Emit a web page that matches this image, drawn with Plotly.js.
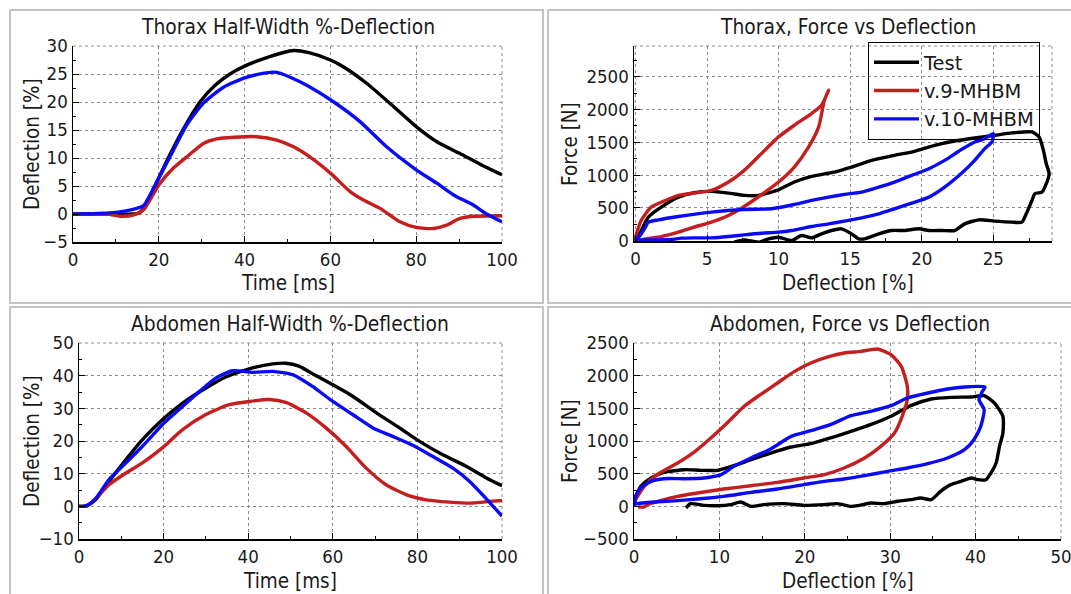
<!DOCTYPE html>
<html>
<head>
<meta charset="utf-8">
<script src="https://cdn.plot.ly/plotly-3.0.1.min.js"></script>
<style>html,body{margin:0;padding:0;background:#fff;}#chart{width:1071px;height:594px;}</style>
</head>
<body>
<div id="chart"></div>
<script>
// ---------- Series names ----------
const seriesNames = ["Test", "v.9-MHBM", "v.10-MHBM"];

// ---------- Panel 1: Thorax Half-Width %-Deflection (time [ms], deflection [%]) ----------
const thoraxTestT = [0,10,15.2,16.5,19.1,22.2,25.6,29.6,33,36.6,40,45,51.4,55,60,63,68.5,74.7,80,84.8,90.2,94.9,100];
const thoraxTestD = [0,0,0.1,1,5,10,15,20,22.9,25,26.4,27.9,29.2,28.8,27.5,26.3,23.3,19.2,15.6,12.9,10.8,8.9,7];
const thoraxV9T = [0,8,11,14,16.4,20,23.4,26.5,30.4,33.5,40,42.8,47.5,51.4,55.2,60,64.6,67.7,71.6,76.2,80,84,87.1,90.2,93.3,100];
const thoraxV9D = [0,0,-0.4,-0.2,0.7,5.2,8.2,10.2,12.6,13.4,13.8,13.8,13.2,12,10.2,7.3,4,2.5,1,-1.4,-2.4,-2.6,-2,-0.8,-0.4,-0.3];
const thoraxV10T = [0,8.6,12,15.6,16.5,20,23.4,26.5,30.4,35,40,45,47.5,52.9,60,66.9,73.1,80,84.8,88.7,93.3,96.4,100];
const thoraxV10D = [0,0.2,0.5,1.2,1.5,6.4,11.4,15.9,19.8,22.6,24.3,25.2,25.3,23.6,20.4,16.5,12,7.9,5.5,3.4,1.6,0,-1.4];

// ---------- Panel 2: Thorax, Force vs Deflection ----------
const thoraxFdTestX = [0,0.4,0.9,1.8,3,4.1,5.3,6.5,7.6,8.6,10,11.1,12.3,13.7,15.1,16.5,18.1,19.5,20.9,22.3,23.7,25.1,26.3,27.7,28.2,28.5,28.7,28.9,28.6,28.4,27.9,27.7,27.3,27,26.3,25.1,24,23,22.3,21.4,20.5,19.8,18.8,17.9,17,16,15.6,15.1,14.4,13.7,13,12.3,11.6,10.9,10,9.3,8.6,7.6,6.9];
const thoraxFdTestF = [0,153,357,510,663,730,750,724,689,689,775,893,980,1036,1122,1224,1301,1362,1454,1520,1566,1607,1643,1658,1582,1377,1173,1020,816,740,714,612,408,281,281,296,316,255,153,153,153,179,153,153,102,26,26,102,179,153,102,41,77,0,51,26,-25,10,-25];
const thoraxFdV9X = [0,0.4,1.1,2.1,3,4.1,5.3,6.5,7.6,8.8,10,11.1,12.3,13,13.5,13.2,12.8,12.1,11.1,10,8.8,7.6,6.5,5.3,4.1,3,1.8,0.7,0];
const thoraxFdV9F = [0,306,510,612,689,724,765,893,1071,1327,1582,1760,1939,2066,2296,2143,1735,1429,1122,893,699,520,383,281,204,128,61,26,0];
const thoraxFdV10X = [0,0.4,0.7,0.9,1.6,3,5.3,7.6,9.5,11.1,12.3,13.5,14.6,15.8,17,18.1,19.3,20.5,21.6,22.8,23.7,24.4,25,24.9,24.4,23.7,22.8,21.6,20.5,19.3,18.1,17,15.8,14.6,13.5,12.3,10.9,10,8.8,7.6,6.5,5.3,4.1,3.2,2.5,1.4,0.7,0.2];
const thoraxFdV10F = [0,102,204,281,316,367,434,474,485,551,612,663,704,740,816,893,995,1097,1224,1393,1505,1556,1633,1505,1403,1224,1031,816,663,571,485,408,347,296,255,214,153,128,112,87,61,41,41,36,15,10,10,10];

// ---------- Panel 3: Abdomen Half-Width %-Deflection ----------
const abdTestT = [0,1,2,3.9,7.1,11.1,15,19.7,24.5,30,34.7,40.3,45.8,48.9,52,55.2,60,64.7,70.3,75.8,80.5,86,91.6,96.3,100];
const abdTestD = [0,0,0.3,2,7.6,14.3,20.4,26.5,31.6,36.2,39.6,42.1,43.6,43.8,42.9,40.6,37.2,33.7,28.6,24,19.9,15.8,12.2,8.7,6.3];
const abdV9T = [0,1,2,3.9,7.1,11.1,15,19.7,24.5,30,35.5,40.3,45,48.9,53.7,58.4,63.1,67.9,72.6,77.3,82.1,87.6,93.1,97.1,100];
const abdV9D = [0,0,0.3,2.3,6.6,10.2,13.3,17.9,23.5,28.1,31.1,32.1,32.7,31.8,28.6,24,18.4,11.7,6.6,3.6,2,1.3,1,1.5,1.8];
const abdV10T = [0,1,2,3.9,7.1,11.1,15,19.7,24.5,28.5,32.4,36.3,41,45.8,50.5,55.2,60,64.7,69.5,74.2,78.9,83.6,88.4,92.3,96.3,100];
const abdV10D = [0,0,0.3,2.3,8.2,13.3,18.4,25,30.6,35.2,39.3,41.5,41,41.3,40.3,36.7,32.1,28.1,24,21.4,18.7,15.3,11.7,7.7,2.3,-3];

// ---------- Panel 4: Abdomen, Force vs Deflection ----------
const abdFdTestX = [0,0.2,0.8,2,3.5,5.9,7.8,9.8,11.7,13.7,16,18.4,20.7,23,25.4,27.7,30.1,32.4,34.8,37.1,39.5,41,42.2,43.2,43.2,42.8,42.4,41.8,41.2,40.2,39.5,38.3,37.1,35.9,34.8,33.6,32.4,30.9,29.3,27.7,26.2,25.4,23.8,22.3,19.9,17.6,15.2,13.7,12.5,11.3,9.8,8.2,6.6,6.1];
const abdFdTestF = [100,153,306,434,520,561,551,551,622,714,816,908,959,1046,1148,1250,1378,1541,1643,1668,1674,1694,1582,1378,1122,918,663,510,408,408,434,383,332,230,102,128,102,77,41,51,10,0,41,26,15,41,26,0,66,26,10,15,41,-26];
const abdFdV9X = [0,0.2,1.2,2.7,5.1,7,9,10.9,12.9,14.8,16.8,18.8,20.7,22.7,24.6,26.6,28.5,30.1,31.3,32,32,31.4,30.5,28.9,27,24.6,22.3,19.9,16.8,13.7,10.5,7.4,5.1,3.1,1.6,1.2,0.5];
const abdFdV9F = [0,102,306,485,663,827,1046,1276,1531,1709,1888,2066,2194,2286,2347,2372,2408,2321,2143,1837,1633,1378,1122,918,740,587,485,434,367,316,265,204,153,87,26,-10,-10];
const abdFdV10X = [0,0.2,0.8,2,3.5,5.9,8.2,10.2,11.7,13.7,16,18.4,20.7,23,25.4,27.7,30.1,32,34.4,36.7,38.7,41.1,40.8,40.4,41,40.6,39.8,38.7,36.7,34.4,32,29.7,27,24.6,22.3,19.9,16.8,13.7,10.5,7.4,5.1,2.3,0.4,0];
const abdFdV10F = [0,153,281,383,423,423,434,485,612,740,878,1071,1158,1250,1388,1454,1541,1658,1735,1796,1827,1827,1760,1633,1480,1224,1020,867,740,653,587,536,469,418,383,332,265,214,153,112,87,66,41,26];

// ---------- Styling ----------
const FONT = "'DejaVu Sans Condensed', 'DejaVu Sans', sans-serif";
const colors = ["#000000", "#c41e1e", "#0a0af5"];
const LW = 3.4;
const W = 1071, H = 594;

function tr(x, y, i, xa, ya, legend) {
  return {type: "scatter", mode: "lines", x: x, y: y, name: seriesNames[i],
    xaxis: xa, yaxis: ya, showlegend: !!legend, hoverinfo: "skip",
    line: {color: colors[i], width: LW, shape: "spline", smoothing: 0.6}};
}

const data = [
  tr(thoraxTestT, thoraxTestD, 0, "x", "y"),
  tr(thoraxV9T, thoraxV9D, 1, "x", "y"),
  tr(thoraxV10T, thoraxV10D, 2, "x", "y"),
  tr(thoraxFdTestX, thoraxFdTestF, 0, "x2", "y2", true),
  tr(thoraxFdV9X, thoraxFdV9F, 1, "x2", "y2", true),
  tr(thoraxFdV10X, thoraxFdV10F, 2, "x2", "y2", true),
  tr(abdTestT, abdTestD, 0, "x3", "y3"),
  tr(abdV9T, abdV9D, 1, "x3", "y3"),
  tr(abdV10T, abdV10D, 2, "x3", "y3"),
  tr(abdFdTestX, abdFdTestF, 0, "x4", "y4"),
  tr(abdFdV9X, abdFdV9F, 1, "x4", "y4"),
  tr(abdFdV10X, abdFdV10F, 2, "x4", "y4")
];

function ax(px0, px1, range, dtick, minor, anchor, isY) {
  const dom = isY ? [1 - px1 / H, 1 - px0 / H] : [px0 / W, px1 / W];
  return {domain: dom, range: range, dtick: dtick, tick0: 0, anchor: anchor,
    showline: true, linecolor: "#000", linewidth: 1.5, mirror: false,
    ticks: "inside", ticklen: 6, tickwidth: 1, tickcolor: "#000",
    minor: {dtick: minor, ticks: "inside", ticklen: 3, tickcolor: "#000", showgrid: false},
    showgrid: true, gridcolor: "#8c8c8c", griddash: "dot", gridwidth: 1,
    zeroline: false, fixedrange: true, ticklabeloverflow: "allow",
    tickfont: {family: FONT, size: 18.5, color: "#1a1a1a"}};
}

const shapes = [];
// dotted top/right borders of each plot area
["", "2", "3", "4"].forEach(s => {
  shapes.push({type: "line", xref: "x" + s + " domain", yref: "y" + s + " domain", x0: 0, x1: 1, y0: 1, y1: 1,
    line: {color: "#8c8c8c", width: 1, dash: "dot"}, layer: "below"});
  shapes.push({type: "line", xref: "x" + s + " domain", yref: "y" + s + " domain", x0: 1, x1: 1, y0: 0, y1: 1,
    line: {color: "#8c8c8c", width: 1, dash: "dot"}, layer: "below"});
});
// panel frames (pixel boxes converted to paper coords)
function frame(x0, y0, x1, y1) {
  shapes.push({type: "rect", xref: "paper", yref: "paper",
    x0: x0 / W, x1: x1 / W, y0: 1 - y1 / H, y1: 1 - y0 / H,
    line: {color: "#c4c4c4", width: 2}, fillcolor: "rgba(0,0,0,0)", layer: "below"});
}
frame(10, 10, 543, 303);
frame(548, 10, 1080, 303);
frame(10, 307, 543, 600);
frame(548, 307, 1080, 600);

function ann(text, xpx, ypx, angle, size) {
  return {text: text, xref: "paper", yref: "paper", x: xpx / W, y: 1 - ypx / H,
    xanchor: "center", yanchor: "middle", showarrow: false, textangle: angle || 0,
    font: {family: FONT, size: size || 20.5, color: "#1a1a1a"}};
}

const layout = {
  width: W, height: H, margin: {l: 0, r: 0, t: 0, b: 0},
  paper_bgcolor: "#fff", plot_bgcolor: "#fff",
  font: {family: FONT, color: "#1a1a1a"},
  xaxis: ax(73, 502, [0, 100], 20, 10, "y", false),
  yaxis: ax(46, 242, [-5, 30], 5, 2.5, "x", true),
  xaxis2: ax(634, 1052, [-0.1, 29.1], 5, 2.5, "y2", false),
  yaxis2: ax(46, 241, [-7, 2970], 500, 250, "x2", true),
  xaxis3: ax(79, 502, [0, 100], 20, 10, "y3", false),
  yaxis3: ax(343, 539, [-10, 50], 10, 5, "x3", true),
  xaxis4: ax(634, 1061, [0, 50], 10, 5, "y4", false),
  yaxis4: ax(343, 539, [-500, 2500], 500, 250, "x4", true),
  showlegend: true,
  legend: {x: 868 / W, y: 1 - 42 / H, xanchor: "left", yanchor: "top",
    bgcolor: "rgba(255,255,255,0)", bordercolor: "#000", borderwidth: 1, itemwidth: 45,
    font: {family: "'DejaVu Sans', sans-serif", size: 19.5, color: "#1a1a1a"}, tracegroupgap: 0},
  shapes: shapes,
  annotations: [
    ann("Thorax Half-Width %-Deflection", 288, 27, 0, 20.8),
    ann("Thorax, Force vs Deflection", 848, 27, 0, 20.8),
    ann("Abdomen Half-Width %-Deflection", 290, 324, 0, 20.8),
    ann("Abdomen, Force vs Deflection", 850, 324, 0, 20.8),
    ann("Time [ms]", 288, 283),
    ann("Deflection [%]", 848, 283),
    ann("Time [ms]", 290, 581),
    ann("Deflection [%]", 848, 581),
    ann("Deflection [%]", 32, 144, -90),
    ann("Force [N]", 570, 144, -90),
    ann("Deflection [%]", 32, 441, -90),
    ann("Force [N]", 570, 441, -90)
  ]
};

Plotly.newPlot("chart", data, layout, {staticPlot: true, displayModeBar: false});
</script>
</body>
</html>
